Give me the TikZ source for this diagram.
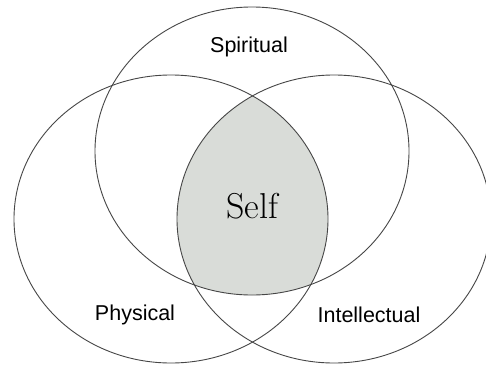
\documentclass[tikz,border=0pt]{standalone}
\usepackage{fontspec}
\setmainfont{Liberation Sans}
\newfontfamily\selffont{Latin Modern Roman}
\definecolor{selffill}{RGB}{217,220,216}
\definecolor{ringline}{RGB}{70,70,70}
\tikzset{
  ring/.style={draw=ringline, line width=0.9pt},
  lbl/.style={font=\fontsize{21.5}{24}\selectfont, inner sep=0pt, text=black},
  selflbl/.style={font=\selffont\fontsize{36}{40}\selectfont, inner sep=0pt}
}
\begin{document}
\begin{tikzpicture}[x=1pt,y=-1pt]
\useasboundingbox (0,0) rectangle (486,364);
\fill[white] (0,0) rectangle (486,364);
% shaded intersection of all three
\begin{scope}
  \clip (252,151) ellipse [x radius=157pt, y radius=144pt];
  \clip (171,219) ellipse [x radius=157pt, y radius=144pt];
  \fill[selffill] (334,219) ellipse [x radius=157pt, y radius=144pt];
\end{scope}
\draw[ring] (252,151) ellipse [x radius=157pt, y radius=144pt];
\draw[ring] (171,219) ellipse [x radius=157pt, y radius=144pt];
\draw[ring] (334,219) ellipse [x radius=157pt, y radius=144pt];
\node[lbl, anchor=base] (spiritual) at (249,52) {Spiritual};
\node[lbl, anchor=base] (physical) at (135,320) {Physical};
\node[lbl, anchor=base] (intellectual) at (369,322) {Intellectual};
\node[selflbl, anchor=base] (self) at (252,218) {Self};
\end{tikzpicture}
\end{document}
